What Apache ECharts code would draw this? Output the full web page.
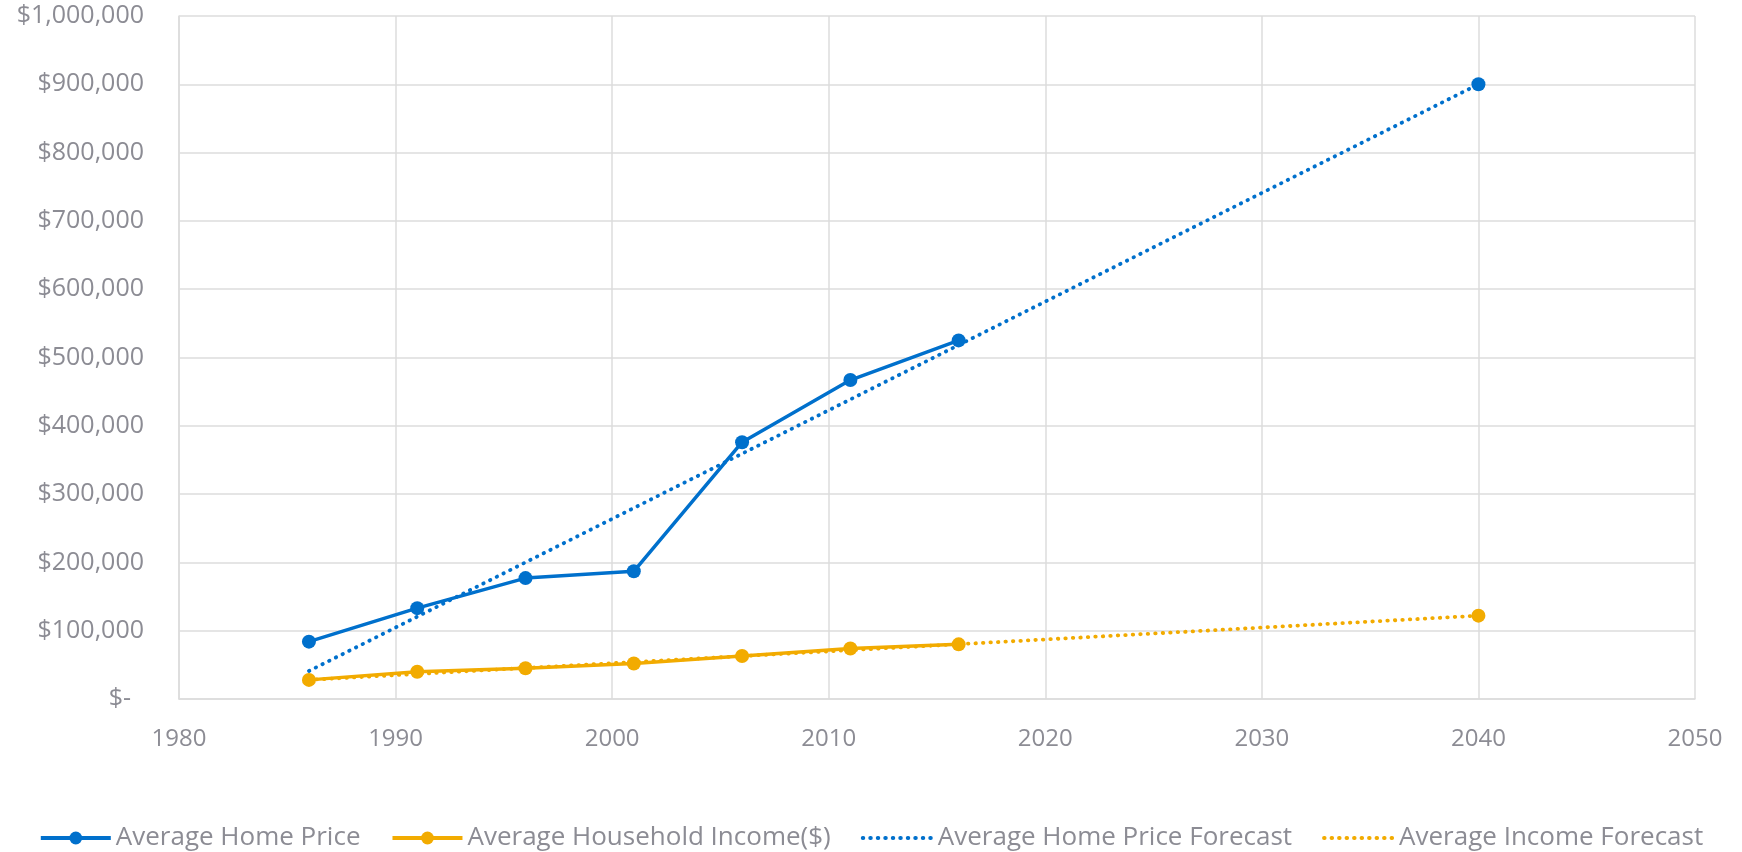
<!DOCTYPE html>
<html>
<head>
<meta charset="utf-8">
<script src="https://cdn.jsdelivr.net/npm/echarts@6/dist/echarts.min.js"></script>
<style>
  html, body { margin: 0; padding: 0; background: #fff; }
  #chart { width: 1742px; height: 852px; }
</style>
</head>
<body>
<div id="chart"></div>
<script>
// census years
var years = [1986, 1991, 1996, 2001, 2006, 2011, 2016];
// average home price ($)
var homePrice = [84000, 133000, 177000, 187000, 376000, 467000, 525000];
// average household income ($)
var income = [28000, 40000, 45000, 52000, 63000, 74000, 80000];
// forecast trend lines: start / end points
var forecastYears = [1986, 2040];
var homeForecast = [41000, 900000];
var incomeForecast = [28000, 122000];

var BLUE = "#0070cc";
var ORANGE = "#f2ab00";
var GREY_TXT = "#8c8c94";
var GRID = "#dcdcdc";
var FONT = "Open Sans";

function pairs(xs, ys) {
  return xs.map(function(x, i) { return [x, ys[i]]; });
}

// actual values, then a break, then the 2040 forecast marker (no joining line)
function withForecastPoint(xs, ys, fy, fv) {
  var d = pairs(xs, ys);
  d.push([fy[fy.length - 1] - 1, "-"]);
  d.push([fy[fy.length - 1], fv[fv.length - 1]]);
  return d;
}

var chart = echarts.init(document.getElementById("chart"));

var option = {
  animation: false,
  textStyle: { fontFamily: FONT },
  grid: { left: 179, right: 47, top: 16, bottom: 153 },
  xAxis: {
    type: "value",
    min: 1980,
    max: 2050,
    interval: 10,
    axisLine: { show: true, lineStyle: { color: GRID, width: 1.5 } },
    axisTick: { show: false },
    splitLine: { show: true, lineStyle: { color: GRID, width: 1.5 } },
    axisLabel: {
      color: GREY_TXT, fontSize: 24, margin: 28, fontFamily: FONT,
      formatter: function(v) { return String(v); }
    }
  },
  yAxis: {
    type: "value",
    min: 0,
    max: 1000000,
    interval: 100000,
    axisLine: { show: true, lineStyle: { color: GRID, width: 1.5 } },
    axisTick: { show: false },
    splitLine: { show: true, lineStyle: { color: GRID, width: 1.5 } },
    axisLabel: {
      color: GREY_TXT,
      fontSize: 25,
      margin: 35,
      fontFamily: FONT,
      formatter: function(v) {
        if (v === 0) return "$-  ";
        return "$" + v.toLocaleString("en-US");
      }
    }
  },
  legend: {
    top: 820,
    left: "center",
    itemWidth: 70,
    itemHeight: 16,
    itemGap: 30,
    lineStyle: { width: 4 },
    textStyle: { color: GREY_TXT, fontSize: 26, fontFamily: FONT },
    data: [
      "Average Home Price",
      "Average Household Income($)",
      // forecast icons: dotted line only, hide the marker
      { name: "Average Home Price Forecast", itemStyle: { color: "rgba(0,0,0,0)", opacity: 0 } },
      { name: "Average Income Forecast", itemStyle: { color: "rgba(0,0,0,0)", opacity: 0 } }
    ]
  },
  series: [
    {
      name: "Average Home Price",
      type: "line",
      z: 4,
      data: withForecastPoint(years, homePrice, forecastYears, homeForecast),
      connectNulls: false,
      symbol: "circle",
      symbolSize: 14,
      itemStyle: { color: BLUE },
      lineStyle: { color: BLUE, width: 3.5 }
    },
    {
      name: "Average Household Income($)",
      type: "line",
      z: 4,
      data: withForecastPoint(years, income, forecastYears, incomeForecast),
      connectNulls: false,
      symbol: "circle",
      symbolSize: 14,
      itemStyle: { color: ORANGE },
      lineStyle: { color: ORANGE, width: 3.5 }
    },
    {
      name: "Average Home Price Forecast",
      type: "line",
      z: 2,
      data: pairs(forecastYears, homeForecast),
      symbol: "none",
      itemStyle: { color: BLUE },
      lineStyle: { color: BLUE, width: 3.8, type: [0.5, 7], cap: "round" }
    },
    {
      name: "Average Income Forecast",
      type: "line",
      z: 2,
      data: pairs(forecastYears, incomeForecast),
      symbol: "none",
      itemStyle: { color: ORANGE },
      lineStyle: { color: ORANGE, width: 3.8, type: [0.5, 7], cap: "round" }
    }
  ]
};

chart.setOption(option);
</script>
</body>
</html>
